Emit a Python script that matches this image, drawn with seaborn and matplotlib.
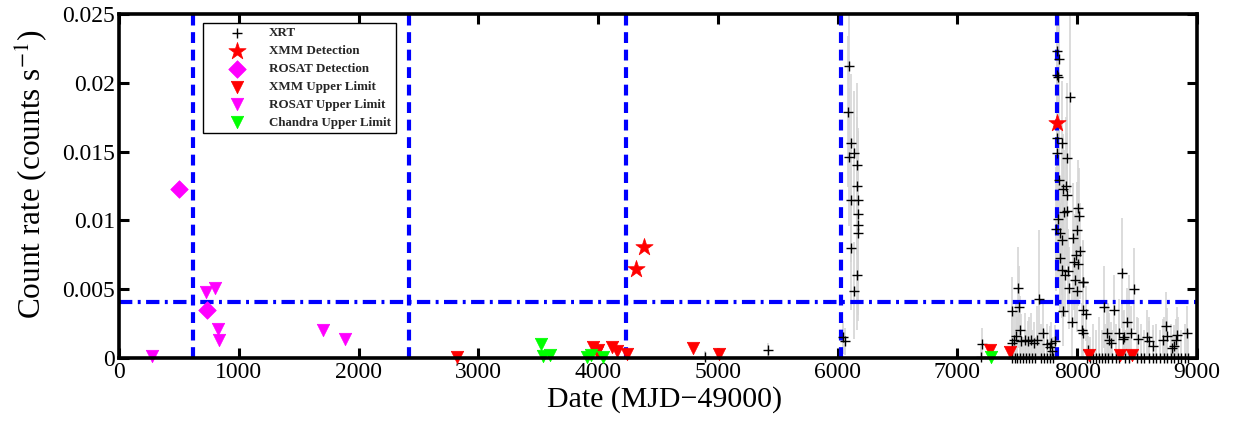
import numpy as np
import pandas as pd
import matplotlib
matplotlib.use("Agg")
import matplotlib.pyplot as plt
import seaborn as sns
from matplotlib.ticker import FuncFormatter

# ---------------- data ----------------
# Swift/XRT light curve, split into segments
xrt_quiet_mjd = [4891, 5420]
xrt_quiet_rate = [0.0001, 0.0006]
xrt_quiet_err = [0.0004, 0.0005]

xrt_ob1_mjd = [6046, 6060, 6093, 6082, 6110, 6135, 6093, 6163, 6163, 6171,
               6110, 6166, 6171, 6171, 6110, 6163, 6135]
xrt_ob1_rate = [0.0015, 0.0012, 0.0212, 0.0179, 0.01565, 0.0149, 0.0146, 0.0140, 0.0125, 0.0115,
                0.0115, 0.0105, 0.0097, 0.0091, 0.0080, 0.0060, 0.0049]
xrt_ob1_err = [0.0012, 0.0010, 0.0070, 0.0055, 0.0050, 0.0045, 0.0050, 0.0060, 0.0050, 0.0045,
               0.0045, 0.0060, 0.0070, 0.0060, 0.0045, 0.0040, 0.0035]

xrt_pre_mjd = [7193, 7206, 7451, 7457, 7473, 7490, 7507, 7515, 7521, 7530,
               7560, 7590, 7615, 7640, 7665, 7680, 7716, 7745, 7771, 7784,
               7790, 7813]
xrt_pre_rate = [0.0001, 0.0010, 0.0011, 0.0034, 0.0013, 0.0016, 0.0051, 0.0037, 0.0020, 0.0012,
                0.0013, 0.0012, 0.0013, 0.0011, 0.0013, 0.0043, 0.0018, 0.0010, 0.0008, 0.0011,
                0.0005, 0.0012]
xrt_pre_err = [0.0008, 0.0012, 0.0020, 0.0025, 0.0020, 0.0025, 0.0030, 0.0030, 0.0025, 0.0020,
               0.0020, 0.0015, 0.0020, 0.0015, 0.0025, 0.0050, 0.0025, 0.0015, 0.0015, 0.0015,
               0.0010, 0.0012]

xrt_peak_mjd = [7832, 7849, 7832, 7836, 7938, 7832, 7869, 7827, 7911, 7849,
                7905, 7877, 7916, 8008, 7911, 7891, 8016, 7841, 7821, 8000,
                7855, 7966, 7874, 8027, 7988, 7860, 8008, 7972, 7869, 7924,
                7897, 7980, 8044, 8050, 7932, 7994, 7882, 8049, 8069, 7952,
                8036, 8044]
xrt_peak_rate = [0.0223, 0.0217, 0.0206, 0.0204, 0.0190, 0.0160, 0.01565, 0.0149, 0.0145, 0.0129,
                 0.0125, 0.01225, 0.01185, 0.0109, 0.0107, 0.0106, 0.0103, 0.0101, 0.0094, 0.0093,
                 0.0091, 0.0087, 0.0086, 0.0078, 0.0075, 0.00725, 0.0068, 0.0070, 0.0064, 0.00635,
                 0.0060, 0.0057, 0.00555, 0.0055, 0.0051, 0.0049, 0.0034, 0.0035, 0.0032, 0.0026,
                 0.0020, 0.0018]
xrt_peak_err = [0.0060, 0.0060, 0.0055, 0.0050, 0.0070, 0.0050, 0.0045, 0.0050, 0.0055, 0.0045,
                0.0050, 0.0040, 0.0045, 0.0035, 0.0040, 0.0045, 0.0035, 0.0050, 0.0045, 0.0035,
                0.0040, 0.0040, 0.0040, 0.0035, 0.0035, 0.0040, 0.0030, 0.0035, 0.0035, 0.0030,
                0.0030, 0.0030, 0.0030, 0.0030, 0.0030, 0.0030, 0.0025, 0.0025, 0.0020, 0.0025,
                0.0020, 0.0020]

xrt_post_mjd = [8091, 8225, 8306, 8375, 8475, 8251, 8264, 8278, 8347, 8383,
                8414, 8445, 8389, 8503, 8584, 8600, 8634, 8739, 8752, 8717,
                8829, 8822, 8807, 8790, 8912]
xrt_post_rate = [0.0006, 0.0037, 0.0035, 0.0062, 0.0050, 0.0018, 0.0013, 0.0011, 0.0018, 0.0014,
                 0.0026, 0.0018, 0.0015, 0.0014, 0.0015, 0.0012, 0.0009, 0.0023, 0.0016, 0.0013,
                 0.0017, 0.0013, 0.0009, 0.0007, 0.0018]
xrt_post_err = [0.0010, 0.0030, 0.0025, 0.0040, 0.0030, 0.0020, 0.0020, 0.0015, 0.0025, 0.0020,
                0.0025, 0.0020, 0.0020, 0.0015, 0.0020, 0.0015, 0.0015, 0.0025, 0.0020, 0.0015,
                0.0020, 0.0015, 0.0015, 0.0010, 0.0020]

xrt_zero_mjd = [7455, 7480, 7500, 7525, 7550, 7575, 7600, 7625, 7650, 7700,
                7725, 7750, 7775, 7800, 8080, 8110, 8135, 8160, 8185, 8210,
                8235, 8260, 8290, 8320, 8345, 8400, 8430, 8500, 8530, 8560,
                8600, 8630, 8660, 8690, 8720, 8750, 8780, 8810, 8840, 8870,
                8900, 8925]
xrt_zero_rate = [0.0, 0.0, 0.0, 0.0, 0.0, 0.0, 0.0, 0.0, 0.0, 0.0,
                 0.0, 0.0, 0.0, 0.0, 0.0, 0.0, 0.0, 0.0, 0.0, 0.0,
                 0.0, 0.0, 0.0, 0.0, 0.0, 0.0, 0.0, 0.0, 0.0, 0.0,
                 0.0, 0.0, 0.0, 0.0, 0.0, 0.0, 0.0, 0.0, 0.0, 0.0,
                 0.0, 0.0]
xrt_zero_err = [0.0015, 0.0020, 0.0030, 0.0025, 0.0015, 0.0020, 0.0030, 0.0020, 0.0015, 0.0025,
                0.0020, 0.0015, 0.0020, 0.0015, 0.0020, 0.0015, 0.0025, 0.0020, 0.0030, 0.0020,
                0.0025, 0.0040, 0.0020, 0.0025, 0.0035, 0.0020, 0.0060, 0.0030, 0.0025, 0.0020,
                0.0030, 0.0020, 0.0025, 0.0020, 0.0030, 0.0020, 0.0025, 0.0020, 0.0030, 0.0020,
                0.0025, 0.0020]

xmm_det_mjd = [4316, 4385, 7830]
xmm_det_rate = [0.00645, 0.0081, 0.0171]

rosat_det_mjd = [503, 737]
rosat_det_rate = [0.0123, 0.0035]

xmm_ul_mjd = [2820, 3960, 3987, 4000, 4112, 4154, 4238, 4789, 5008, 7270, 7437, 8100, 8356, 8459]
xmm_ul_rate = [0.0001, 0.0008, 0.0004, 0.0006, 0.0008, 0.0005, 0.0003, 0.0007, 0.0003, 0.0006,
               0.00045, 0.00025, 0.00025, 0.00025]

rosat_ul_mjd = [273, 726, 804, 824, 835, 1700, 1887]
rosat_ul_rate = [0.00015, 0.0048, 0.0051, 0.0021, 0.0013, 0.0020, 0.0014]

chandra_ul_mjd = [3523, 3540, 3598, 3904, 3939, 4043, 7276]
chandra_ul_rate = [0.0010, 0.00015, 0.0002, 0.0001, 0.0002, 0.0001, 0.0001]

outburst_lines = [618, 2420, 4230, 6024, 7832]
threshold = 0.0041

x_ticks = [0, 1000, 2000, 3000, 4000, 5000, 6000, 7000, 8000, 9000]
y_ticks = [0, 0.005, 0.01, 0.015, 0.02, 0.025]

# ---------------- build XRT table ----------------
segments = [
    (xrt_quiet_mjd, xrt_quiet_rate, xrt_quiet_err),
    (xrt_ob1_mjd, xrt_ob1_rate, xrt_ob1_err),
    (xrt_pre_mjd, xrt_pre_rate, xrt_pre_err),
    (xrt_peak_mjd, xrt_peak_rate, xrt_peak_err),
    (xrt_post_mjd, xrt_post_rate, xrt_post_err),
    (xrt_zero_mjd, xrt_zero_rate, xrt_zero_err),
]
frames = []
for m, r, e in segments:
    n = min(len(m), len(r), len(e))
    frames.append(pd.DataFrame({"mjd": m[:n], "rate": r[:n], "err": e[:n]}))
xrt = pd.concat(frames, ignore_index=True)

# ---------------- style ----------------
sns.set_theme(style="white")
plt.rcParams["font.family"] = ["Liberation Serif", "DejaVu Serif"]
plt.rcParams["mathtext.fontset"] = "stix"

fig = plt.figure(figsize=(12.37, 4.23), dpi=100)
ax = fig.add_axes([0.0962, 0.1537, 0.8715, 0.8132])

# error bars (gray, clipped to axes)
ax.errorbar(xrt["mjd"], xrt["rate"], yerr=xrt["err"], fmt="none", ecolor="#d6d6d6",
            elinewidth=1.2, capsize=0, zorder=1)

# reference lines
for xv in outburst_lines:
    ax.axvline(xv, color="#0000ff", lw=3, ls=(0, (2.6, 1.6)), zorder=2)
ax.axhline(threshold, color="#0000ff", lw=3, ls=(0, (3.2, 1.3, 0.7, 1.3)), zorder=2)

sns.scatterplot(data=xrt, x="mjd", y="rate", ax=ax, marker="+", s=45, color="black",
                linewidth=1.0, label="XRT", zorder=4, clip_on=False)
sns.scatterplot(x=xmm_det_mjd, y=xmm_det_rate, ax=ax, marker="*", s=170, color="#ff0000",
                edgecolor="#ff0000", linewidth=0.5, label="XMM Detection", zorder=5, clip_on=False)
sns.scatterplot(x=rosat_det_mjd, y=rosat_det_rate, ax=ax, marker="D", s=80, color="#ff00ff",
                edgecolor="#ff00ff", linewidth=0.5, label="ROSAT Detection", zorder=5, clip_on=False)
sns.scatterplot(x=xmm_ul_mjd, y=xmm_ul_rate, ax=ax, marker="v", s=80, color="#ff0000",
                edgecolor="#ff0000", linewidth=0.5, label="XMM Upper Limit", zorder=5, clip_on=False)
sns.scatterplot(x=rosat_ul_mjd, y=rosat_ul_rate, ax=ax, marker="v", s=80, color="#ff00ff",
                edgecolor="#ff00ff", linewidth=0.5, label="ROSAT Upper Limit", zorder=5, clip_on=False)
sns.scatterplot(x=chandra_ul_mjd, y=chandra_ul_rate, ax=ax, marker="v", s=80, color="#00ff00",
                edgecolor="#00ff00", linewidth=0.5, label="Chandra Upper Limit", zorder=5, clip_on=False)

ax.set_xlim(0, 9000)
ax.set_ylim(0, 0.025)
ax.set_xticks(x_ticks)
ax.set_yticks(y_ticks)
ax.yaxis.set_major_formatter(FuncFormatter(lambda v, p: "0" if v == 0 else f"{v:g}"))
ax.xaxis.set_major_formatter(FuncFormatter(lambda v, p: f"{int(v)}"))

for sp in ax.spines.values():
    sp.set_visible(True)
    sp.set_color("black")
    sp.set_linewidth(2.6)
    sp.set_zorder(6)

ax.tick_params(axis="both", which="major", direction="in", length=7, width=2.2, color="black",
               top=True, right=True, bottom=True, left=True, labelsize=17, pad=3,
               labelcolor="black")

ax.set_xlabel("Date (MJD\u221249000)", fontsize=21.5, color="black")
ax.set_ylabel("Count rate (counts s$^{-1}$)", fontsize=22.5, color="black")
ax.xaxis.set_label_coords(0.506, -0.083)
ax.yaxis.set_label_coords(-0.064, 0.535)

leg = ax.legend(loc="upper left", bbox_to_anchor=(0.0776, 0.975), frameon=True, fancybox=False,
                edgecolor="black", framealpha=1, prop={"weight": "bold", "size": 9.4},
                borderpad=0.35, labelspacing=0.44, handletextpad=0.15, handlelength=4.6,
                borderaxespad=0)
leg.get_frame().set_linewidth(1.0)
leg.set_zorder(10)

fig.savefig("out.png", dpi=100)
